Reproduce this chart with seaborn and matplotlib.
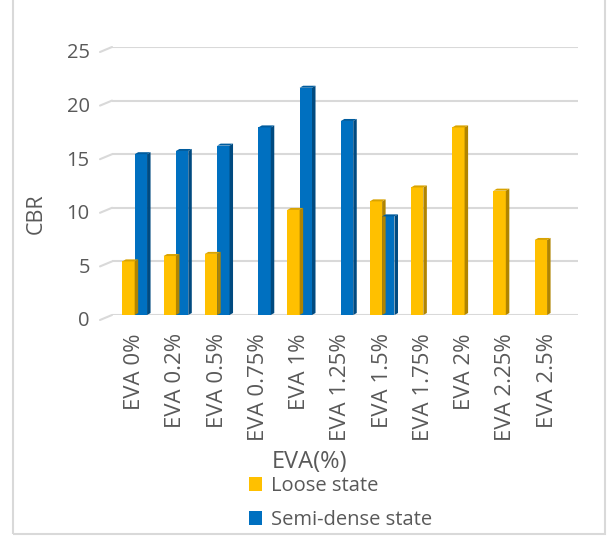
import numpy as np
import pandas as pd
import matplotlib
matplotlib.use("Agg")
import matplotlib.pyplot as plt
import matplotlib.transforms as mtransforms
from matplotlib.patches import Polygon, Rectangle
import seaborn as sns

# data
categories = ["EVA 0%", "EVA 0.2%", "EVA 0.5%", "EVA 0.75%", "EVA 1%", "EVA 1.25%",
              "EVA 1.5%", "EVA 1.75%", "EVA 2%", "EVA 2.25%", "EVA 2.5%"]
loose = [5.0, 5.5, 5.7, np.nan, 9.8, np.nan, 10.6, 11.9, 17.5, 11.6, 7.0]
semi_dense = [15.0, 15.3, 15.8, 17.5, 21.2, 18.1, 9.2, np.nan, np.nan, np.nan, np.nan]
states = ["Loose state", "Semi-dense state"]
colors = ["#FFC000", "#0070C0"]
side_colors = ["#B08400", "#004A80"]
top_colors = ["#D9A300", "#005C9E"]

df = pd.DataFrame({
    "EVA": categories * 2,
    "CBR": loose + semi_dense,
    "State": [states[0]] * len(categories) + [states[1]] * len(categories),
})

sns.set_style("white")
plt.rcParams['font.family'] = ['Open Sans', 'DejaVu Sans']
text_color = "#595959"
grid_color = "#D9D9D9"

fig = plt.figure(figsize=(6.08, 5.36), dpi=100)
ax = fig.add_axes([112 / 608, 1 - 315 / 536, 466 / 608, 268 / 536])

sns.barplot(data=df, x="EVA", y="CBR", hue="State", hue_order=states,
            order=categories, palette=colors, width=0.6, saturation=1,
            ax=ax, linewidth=0)

xmin, xmax = -0.55, 10.75
ax.set_xlim(xmin, xmax)
ax.set_ylim(0, 25)
ax.set_yticks(range(0, 26, 5))
ax.yaxis.grid(True, color=grid_color, linewidth=1.5)
ax.set_axisbelow(True)
for s in ax.spines.values():
    s.set_visible(False)
ax.tick_params(axis="x", rotation=90, length=0, pad=13, labelsize=16, labelcolor=text_color)
ax.tick_params(axis="y", length=0, pad=16, labelsize=14.5, labelcolor=text_color)
ax.set_xlabel("")
ax.set_ylabel("")

# y labels sit a bit lower, like the 3D floor in the original
shift = mtransforms.ScaledTranslation(0, -4 / 100, fig.dpi_scale_trans)
for lab in ax.get_yticklabels():
    lab.set_transform(lab.get_transform() + shift)

px_x = 466 / (xmax - xmin)
px_y = 268 / 25

# small perspective stubs on the left of each gridline
for t in ax.get_yticks():
    ax.plot([xmin - 12 / px_x, xmin], [t - 5 / px_y, t], color=grid_color,
            linewidth=1.5, clip_on=False, zorder=0)

# pseudo 3D faces on each bar drawn by seaborn
dx, dy = 3.5 / px_x, 2.0 / px_y
for container, sc, tc in zip(ax.containers, side_colors, top_colors):
    for p in container.patches:
        h = p.get_height()
        if not np.isfinite(h) or h <= 0:
            continue
        x0, w = p.get_x(), p.get_width()
        x1 = x0 + w
        ax.add_patch(Polygon([(x1, 0), (x1 + dx, dy), (x1 + dx, h + dy), (x1, h)],
                             closed=True, facecolor=sc, edgecolor="none", zorder=3))
        ax.add_patch(Polygon([(x0, h), (x0 + dx, h + dy), (x1 + dx, h + dy), (x1, h)],
                             closed=True, facecolor=tc, edgecolor="none", zorder=3))

fig.text(36 / 608, 1 - 214 / 536, "CBR", rotation=90, ha="center", va="center",
         fontsize=15.5, color=text_color)
fig.text(310 / 608, 1 - 462 / 536, "EVA(%)", ha="center", va="center",
         fontsize=17, color=text_color)

handles, labels = ax.get_legend_handles_labels()
ax.get_legend().remove()
leg = fig.legend(handles, labels, loc="upper left",
                 bbox_to_anchor=(239 / 608, 1 - 466 / 536), frameon=False,
                 fontsize=14.5, handlelength=0.65, handleheight=0.65,
                 handletextpad=0.45, labelspacing=0.7, borderpad=0)
for t in leg.get_texts():
    t.set_color(text_color)

fig.add_artist(Rectangle((13 / 608, 2 / 536), 592 / 608, 1.0, transform=fig.transFigure,
                         fill=False, edgecolor=grid_color, linewidth=1.5))

fig.savefig("out.png", dpi=100)
